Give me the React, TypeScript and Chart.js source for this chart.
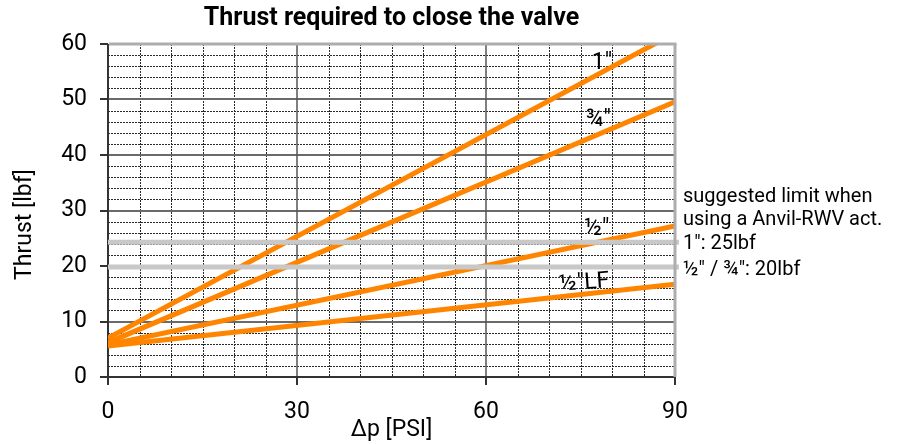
import React, { useEffect, useRef } from 'react';
import { Chart, registerables } from 'chart.js';

Chart.register(...registerables);

// ---- data ----
const PSI = [0, 90];
const THRUST_1IN = [7.0, 62.0];
const THRUST_3_4IN = [6.2, 49.6];
const THRUST_1_2IN = [5.8, 27.2];
const THRUST_1_2IN_LF = [5.6, 16.7];
const SERIES_NAMES = ['1"', '¾"', '½"', '½"LF'];
const SERIES_LABEL_PSI = [78.4, 77.8, 77.6, 75.6];
const SERIES_LABEL_LBF = [56.5, 46.2, 26.7, 16.9];
const LIMITS = [24.3, 19.8];
const LIMIT_LABELS = ['1": 25lbf', '½" / ¾": 20lbf'];
const LIMIT_NOTE = ['suggested limit when', 'using a Anvil-RWV act.'];
const X_TICKS = [0, 30, 60, 90];
const Y_TICKS = [0, 10, 20, 30, 40, 50, 60];

const TITLE = 'Thrust required to close the valve';
const X_TITLE = 'Δp [PSI]';
const Y_TITLE = 'Thrust [lbf]';

const ORANGE = 'rgb(255,133,0)';
const FONT = 'Roboto, "Liberation Sans", sans-serif';

export default function App() {
  const ref = useRef<HTMLCanvasElement | null>(null);

  useEffect(() => {
    const canvas = ref.current;
    if (!canvas) return;

    const line = (ctx: CanvasRenderingContext2D, x1: number, y1: number, x2: number, y2: number) => {
      ctx.beginPath();
      ctx.moveTo(x1, y1);
      ctx.lineTo(x2, y2);
      ctx.stroke();
    };

    const deco = {
      id: 'deco',
      beforeDatasetsDraw(chart: any) {
        const { ctx, chartArea: a, scales } = chart;
        const x = scales.x;
        const y = scales.y;
        ctx.save();
        // minor dotted grid
        ctx.setLineDash([2, 1]);
        ctx.lineWidth = 1;
        ctx.strokeStyle = '#2a2a2a';
        for (let v = 2; v < 60; v += 2) {
          if (v % 10 === 0) continue;
          const py = Math.round(y.getPixelForValue(v)) + 0.5;
          line(ctx, a.left, py, a.right, py);
        }
        for (let v = 5; v < 90; v += 5) {
          if (v % 30 === 0) continue;
          const px = Math.round(x.getPixelForValue(v)) + 0.5;
          line(ctx, px, a.top, px, a.bottom);
        }
        ctx.setLineDash([]);
        // major grid
        ctx.strokeStyle = '#6a6a6a';
        ctx.lineWidth = 2;
        for (let v = 10; v < 60; v += 10) {
          const py = Math.round(y.getPixelForValue(v));
          line(ctx, a.left, py, a.right, py);
        }
        ctx.strokeStyle = '#555';
        ctx.lineWidth = 1.5;
        for (const v of [30, 60]) {
          const px = x.getPixelForValue(v);
          line(ctx, px, a.top, px, a.bottom);
        }
        // axes
        ctx.strokeStyle = '#333';
        ctx.lineWidth = 2;
        line(ctx, a.left, a.top, a.left, a.bottom + 1);
        line(ctx, a.left, a.bottom, a.right, a.bottom);
        // tick marks
        for (const v of Y_TICKS) {
          const py = Math.round(y.getPixelForValue(v));
          line(ctx, a.left - 8, py, a.left, py);
        }
        for (const v of X_TICKS) {
          const px = Math.round(x.getPixelForValue(v));
          line(ctx, px, a.bottom, px, a.bottom + 8);
        }
        ctx.restore();
      },
      afterDatasetsDraw(chart: any) {
        const { ctx, chartArea: a, scales } = chart;
        const x = scales.x;
        const y = scales.y;
        ctx.save();
        // suggested limit lines
        ctx.strokeStyle = '#c8c8c8';
        ctx.lineWidth = 5;
        for (const v of LIMITS) {
          const py = y.getPixelForValue(v);
          line(ctx, a.left, py, a.right + 4, py);
        }
        // gray top / right border
        ctx.strokeStyle = '#adadad';
        ctx.lineWidth = 3;
        line(ctx, a.left + 1, a.top, a.right + 1.5, a.top);
        line(ctx, a.right, a.top, a.right, a.bottom);
        // series labels
        ctx.fillStyle = '#000';
        ctx.font = `23px ${FONT}`;
        ctx.textAlign = 'center';
        ctx.textBaseline = 'middle';
        SERIES_NAMES.forEach((n, i) => {
          const px = x.getPixelForValue(SERIES_LABEL_PSI[i]);
          const py = y.getPixelForValue(SERIES_LABEL_LBF[i]);
          ctx.save();
          ctx.translate(px, py);
          if (i === 3) ctx.rotate(-4 * Math.PI / 180);
          ctx.fillText(n, 0, 0);
          ctx.restore();
        });
        // limit notes
        ctx.font = `20px ${FONT}`;
        ctx.textAlign = 'left';
        const ly0 = y.getPixelForValue(LIMITS[0]);
        const ly1 = y.getPixelForValue(LIMITS[1]);
        ctx.fillText(LIMIT_NOTE[0], a.right + 8, ly0 - 45);
        ctx.fillText(LIMIT_NOTE[1], a.right + 8, ly0 - 22);
        ctx.fillText(LIMIT_LABELS[0], a.right + 8, ly0 + 2);
        ctx.fillText(LIMIT_LABELS[1], a.right + 8, ly1 + 3);
        // chart title
        ctx.font = `bold 25px ${FONT}`;
        ctx.textAlign = 'center';
        ctx.fillText(TITLE, (a.left + a.right) / 2, 19);
        // y title
        ctx.font = `23px ${FONT}`;
        ctx.save();
        ctx.translate(25, (a.top + a.bottom) / 2 + 14);
        ctx.rotate(-Math.PI / 2);
        ctx.fillText(Y_TITLE, 0, 0);
        ctx.restore();
        ctx.restore();
      },
    };

    const mk = (label: string, vals: number[]) => ({
      label,
      data: PSI.map((p, i) => ({ x: p, y: vals[i] })),
      borderColor: ORANGE,
      backgroundColor: ORANGE,
      borderWidth: 5,
      pointRadius: 0,
      tension: 0,
      clip: 0,
    });

    const chart = new Chart(canvas, {
      type: 'line',
      data: {
        datasets: [
          mk(SERIES_NAMES[0], THRUST_1IN),
          mk(SERIES_NAMES[1], THRUST_3_4IN),
          mk(SERIES_NAMES[2], THRUST_1_2IN),
          mk(SERIES_NAMES[3], THRUST_1_2IN_LF),
        ],
      },
      options: {
        animation: false,
        responsive: false,
        events: [],
        layout: { padding: { left: 0, top: 44, right: 223, bottom: 0 } },
        plugins: {
          legend: { display: false },
          title: { display: false },
          tooltip: { enabled: false },
        },
        scales: {
          x: {
            type: 'linear',
            min: 0,
            max: 90,
            afterFit: (s: any) => { s.height = 67; },
            afterBuildTicks: (s: any) => { s.ticks = X_TICKS.map((v) => ({ value: v })); },
            grid: { display: false },
            border: { display: false },
            ticks: { color: '#000', font: { family: FONT, size: 23 }, padding: 13, maxRotation: 0 },
            title: { display: true, text: X_TITLE, color: '#000', font: { family: FONT, size: 23 }, padding: { top: 0, bottom: 0 } },
          },
          y: {
            type: 'linear',
            min: 0,
            max: 60,
            afterFit: (s: any) => { s.width = 108; },
            afterBuildTicks: (s: any) => { s.ticks = Y_TICKS.map((v) => ({ value: v })); },
            grid: { display: false },
            border: { display: false },
            ticks: { color: '#000', font: { family: FONT, size: 23 }, padding: 13 },
          },
        },
      },
      plugins: [deco],
    } as any);

    return () => chart.destroy();
  }, []);

  return (
    <div style={{ position: 'absolute', left: 0, top: 0, width: 898, height: 444, background: '#fff' }}>
      <canvas ref={ref} width={898} height={444} style={{ display: 'block' }} />
    </div>
  );
}
